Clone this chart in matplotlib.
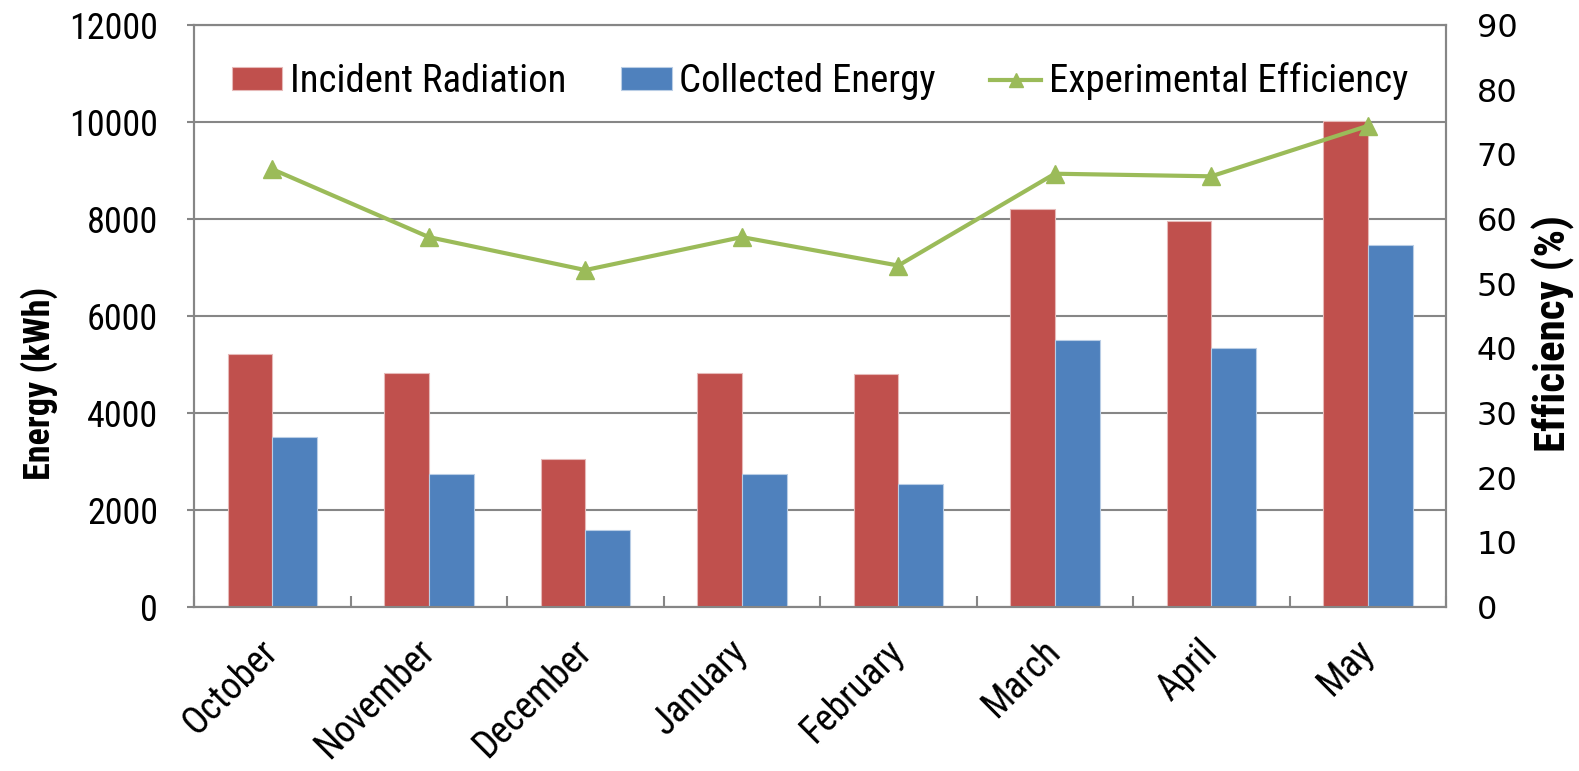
import matplotlib
matplotlib.use("Agg")
import matplotlib.pyplot as plt
from matplotlib.ticker import MultipleLocator, FixedLocator
import numpy as np

months = ["October", "November", "December", "January", "February", "March", "April", "May"]
incident = [5210, 4820, 3050, 4820, 4810, 8200, 7960, 10030]
collected = [3510, 2750, 1580, 2750, 2530, 5500, 5330, 7470]
efficiency = [67.7, 57.2, 52.1, 57.2, 52.8, 67.0, 66.6, 74.4]

RED = "#C0504D"
BLUE = "#4F81BD"
GREEN = "#9BBB59"
GRID = "#868686"

COND = ["Roboto Condensed", "DejaVu Sans"]

fig = plt.figure(figsize=(15.79, 7.71), dpi=100)
ax = fig.add_axes([0.1229, 0.2127, 0.7929, 0.7549])
ax2 = ax.twinx()

x = np.arange(len(months))
w = 1 / 3.5
b1 = ax.bar(x - w / 2, incident, w, color=RED, edgecolor="#E6B9B8", linewidth=0.8,
            label="Incident Radiation", zorder=3)
b2 = ax.bar(x + w / 2, collected, w, color=BLUE, edgecolor="#B9CDE5", linewidth=0.8,
            label="Collected Energy", zorder=3)
ln, = ax2.plot(x, efficiency, color=GREEN, lw=3, marker="^", markersize=13,
               label="Experimental Efficiency", zorder=4)

ax.set_xlim(-0.5, len(months) - 0.5)
ax.set_ylim(0, 12000)
ax2.set_ylim(0, 90)
ax.yaxis.set_major_locator(MultipleLocator(2000))
ax2.yaxis.set_major_locator(MultipleLocator(10))

ax.grid(axis="y", color=GRID, lw=1.5, zorder=0)
ax.set_axisbelow(True)
for a in (ax, ax2):
    for s in a.spines.values():
        s.set_color(GRID)
        s.set_linewidth(1.5)

ax.set_xticks(x)
ax.set_xticklabels(months, rotation=45, ha="right", va="center", rotation_mode="anchor",
                   family=COND, fontsize=27)
ax.xaxis.set_minor_locator(FixedLocator(np.arange(-0.5, len(months), 1.0)))
ax.tick_params(axis="x", which="major", length=0, pad=28)
ax.tick_params(axis="x", which="minor", direction="in", length=8, width=1.5, color=GRID)
ax.tick_params(axis="y", which="major", direction="out", length=5, width=1.5, color=GRID,
               pad=21, labelsize=26)
for t in ax.get_yticklabels():
    t.set_family(COND)
ax2.tick_params(axis="y", length=0, pad=22, labelsize=23)
for t in ax2.get_yticklabels():
    t.set_family("DejaVu Sans")

ax.set_ylabel("Energy (kWh)", family=COND, fontsize=26, fontweight="bold")
ax.yaxis.set_label_coords(-0.1086, 0.385)
ax2.set_ylabel("Efficiency (%)", family=COND, fontsize=31, fontweight="bold")
ax2.yaxis.set_label_coords(1.0686, 0.47)

leg_handles = [b1, b2, plt.Line2D([], [], color=GREEN, lw=3, marker="^", markersize=10)]
ax.legend(handles=leg_handles, labels=[h.get_label() for h in (b1, b2, ln)],
          loc="center", bbox_to_anchor=(0.5, 0.903),
          ncol=3, frameon=False, prop={"family": COND, "size": 28},
          handlelength=1.3, handleheight=0.55, handletextpad=0.2, columnspacing=1.4)

fig.savefig("out.png", dpi=100)
